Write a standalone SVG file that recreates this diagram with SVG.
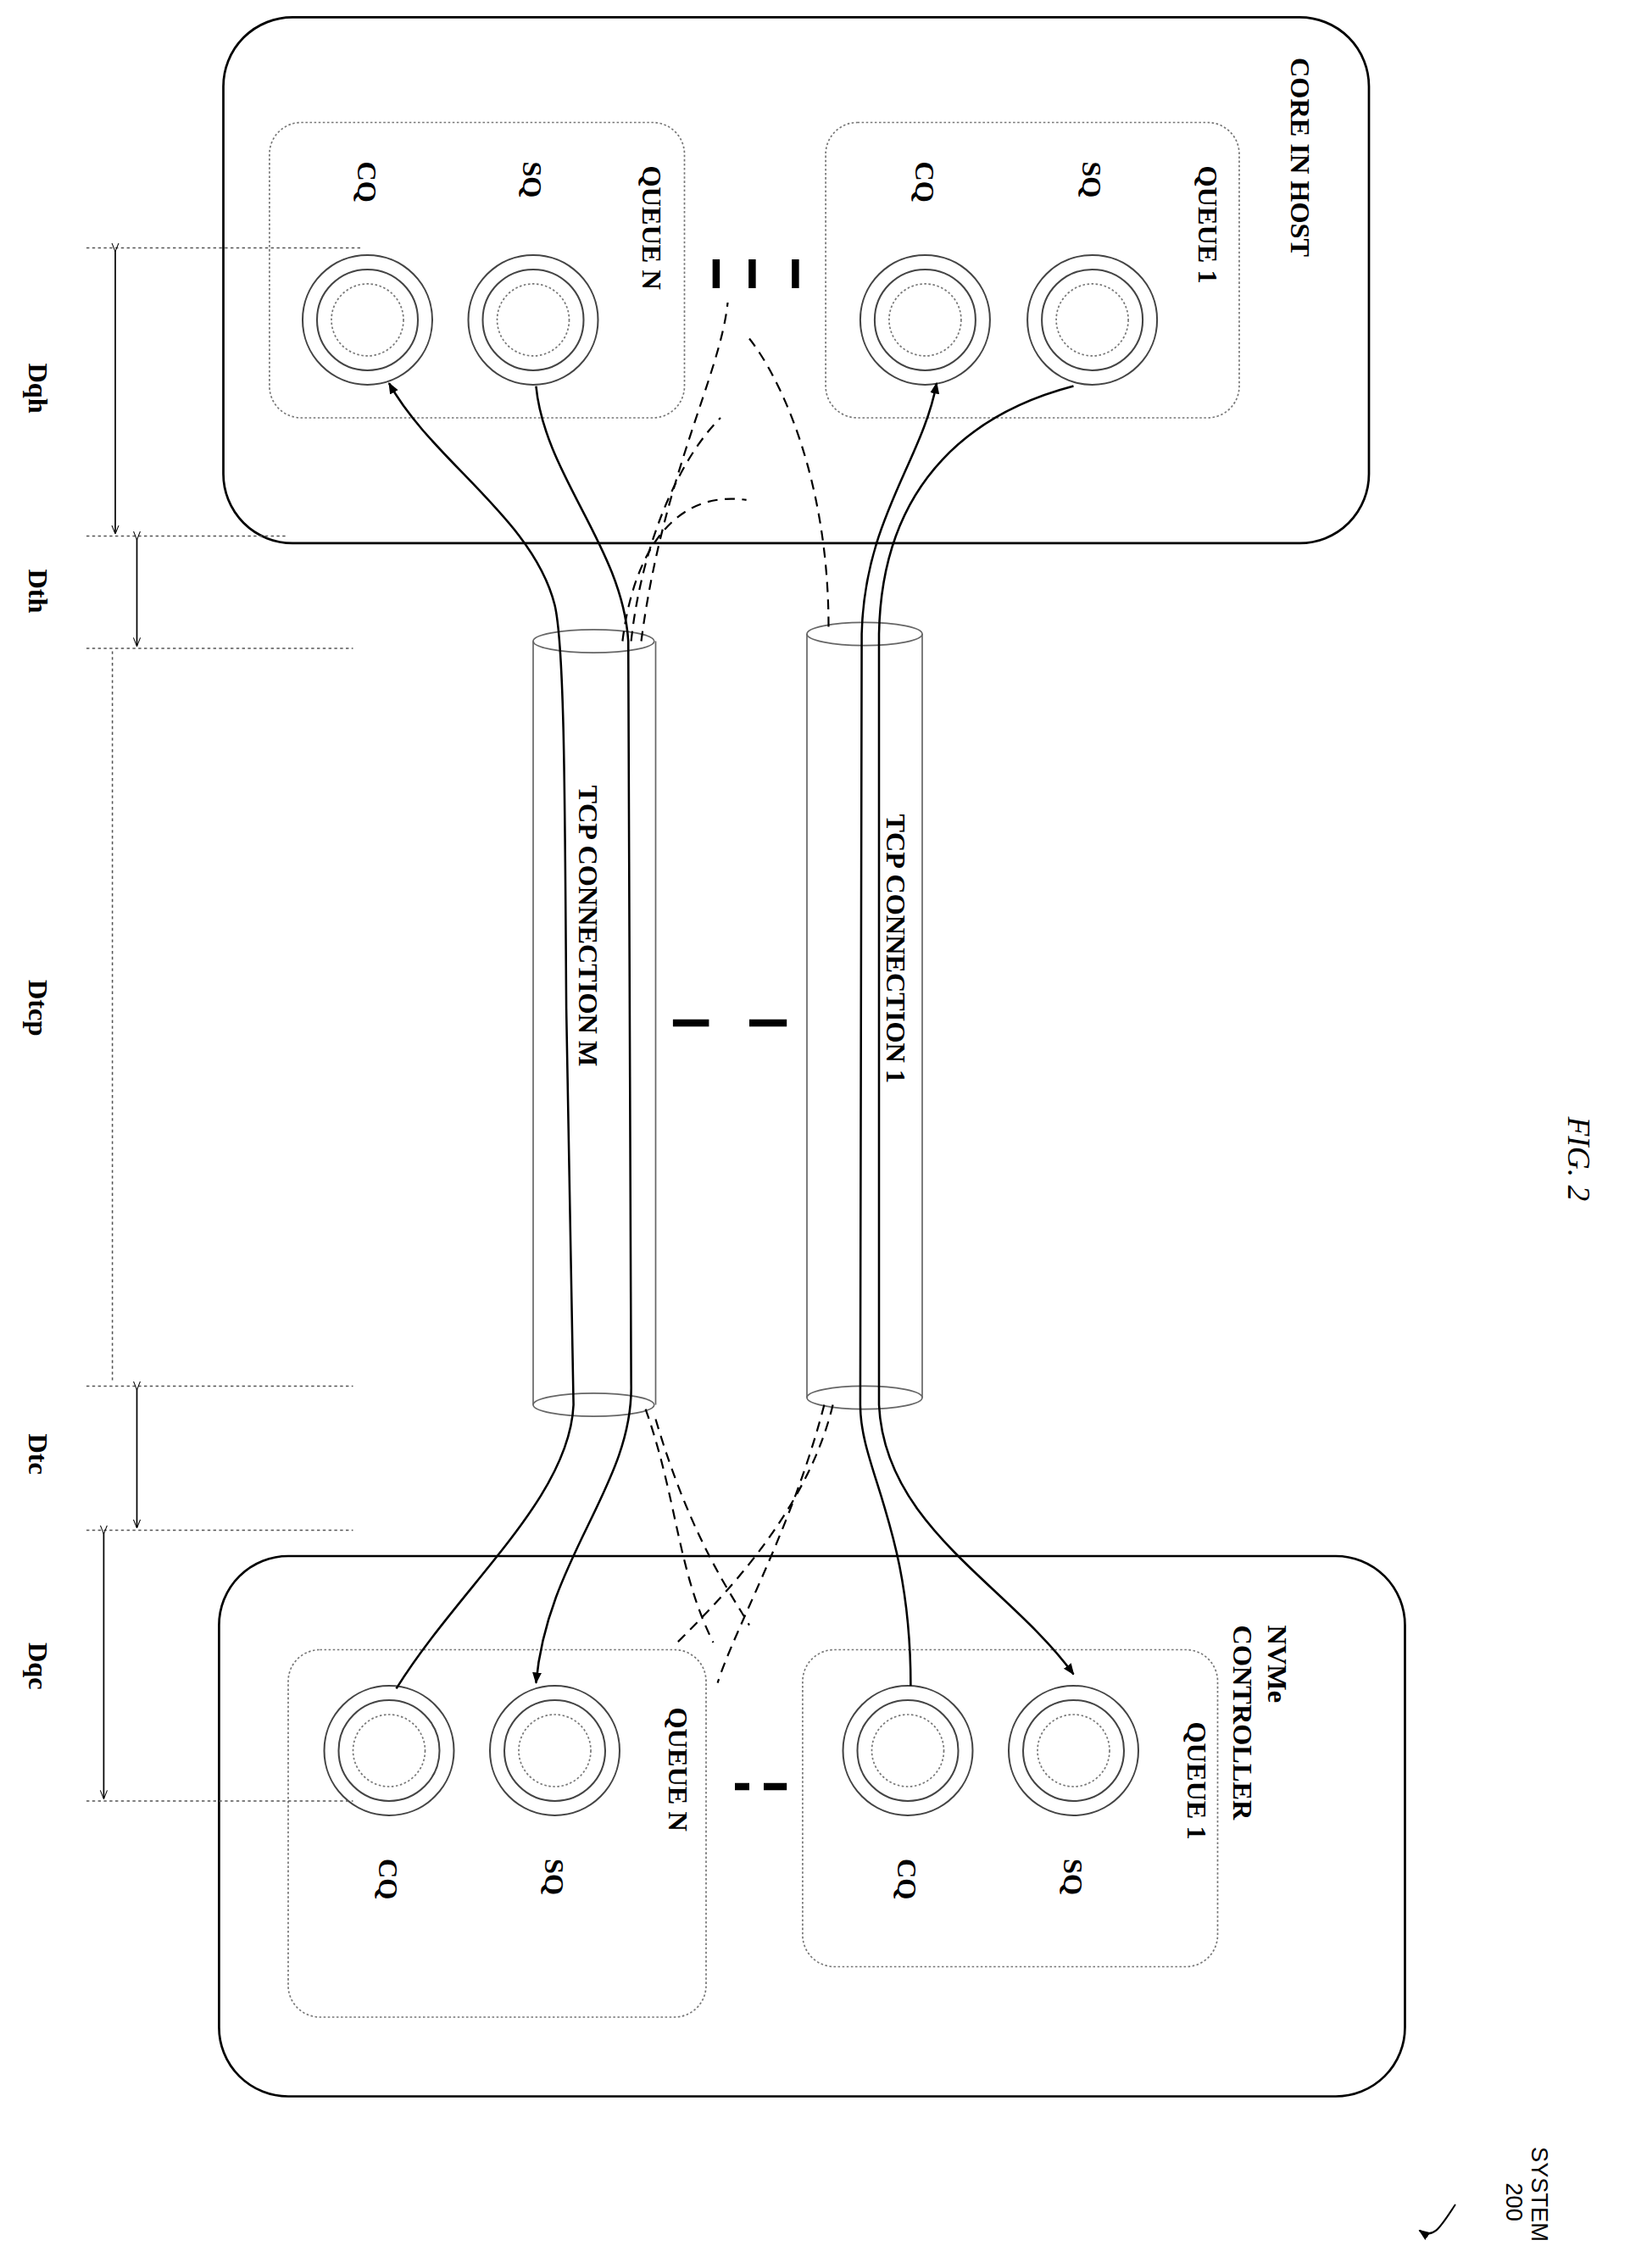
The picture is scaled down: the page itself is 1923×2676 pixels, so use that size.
<svg xmlns="http://www.w3.org/2000/svg" width="1923" height="2676" viewBox="0 0 1923 2676">
<defs>
<style>
.box{fill:none;stroke:#000;stroke-width:1.6}
.inner{fill:none;stroke:#777;stroke-width:1;stroke-dasharray:1.5 1.5}
.c1{fill:none;stroke:#444;stroke-width:1.2}
.c2{fill:none;stroke:#777;stroke-width:1;stroke-dasharray:1.5 1.5}
.t{font-family:"Liberation Serif",serif;font-size:19px;fill:#000}
.b{font-weight:bold}
.halo{paint-order:stroke;stroke:#fff;stroke-width:4px}
.ln{fill:none;stroke:#000;stroke-width:1.5}
.dl{fill:none;stroke:#000;stroke-width:1.3;stroke-dasharray:7 5}
.dim{fill:none;stroke:#555;stroke-width:0.9;stroke-dasharray:2 2}
.bold{stroke:#000;stroke-width:5}
.cyl{fill:none;stroke:#666;stroke-width:1}
</style>
<marker id="ah" viewBox="0 0 10 10" refX="9" refY="5" markerWidth="8" markerHeight="8" orient="auto" markerUnits="userSpaceOnUse"><path d="M0,1 L10,5 L0,9 z" fill="#000"/></marker>
<marker id="dh" viewBox="0 0 10 10" refX="9" refY="5" markerWidth="6" markerHeight="6" orient="auto" markerUnits="userSpaceOnUse"><path d="M0,1 L10,5 L0,9" fill="none" stroke="#000"/></marker>
</defs>
<g transform="scale(1.7)">
<g id="host">
<rect class="box" x="155" y="12" width="795" height="365" rx="48"/>
<text class="t b" transform="translate(896,40) rotate(90)">CORE IN HOST</text>
</g>
<g id="host-queue-n">
<rect class="inner" x="187" y="85" width="288" height="205" rx="22"/>
<text class="t b" transform="translate(446,115) rotate(90)">QUEUE N</text>
<circle class="c1" cx="255" cy="222" r="45"/><circle class="c1" cx="255" cy="222" r="35"/><circle class="c2" cx="255" cy="222" r="25"/>
<text class="t b" transform="translate(248,112) rotate(90)">CQ</text>
<circle class="c1" cx="370" cy="222" r="45"/><circle class="c1" cx="370" cy="222" r="35"/><circle class="c2" cx="370" cy="222" r="25"/>
<text class="t b" transform="translate(363,112) rotate(90)">SQ</text>
</g>
<g id="host-queue-1">
<rect class="inner" x="573" y="85" width="287" height="205" rx="22"/>
<text class="t b" transform="translate(832,115) rotate(90)">QUEUE 1</text>
<circle class="c1" cx="642" cy="222" r="45"/><circle class="c1" cx="642" cy="222" r="35"/><circle class="c2" cx="642" cy="222" r="25"/>
<text class="t b" transform="translate(635,112) rotate(90)">CQ</text>
<circle class="c1" cx="758" cy="222" r="45"/><circle class="c1" cx="758" cy="222" r="35"/><circle class="c2" cx="758" cy="222" r="25"/>
<text class="t b" transform="translate(751,112) rotate(90)">SQ</text>
</g>
<g id="ctrl">
<rect class="box" x="152" y="1080" width="823" height="375" rx="48"/>
<text class="t b" transform="translate(880,1128) rotate(90)">NVMe</text>
<text class="t b" transform="translate(856,1128) rotate(90)">CONTROLLER</text>
</g>
<g id="ctrl-queue-n">
<rect class="inner" x="200" y="1145" width="290" height="255" rx="22"/>
<text class="t b" transform="translate(464,1185) rotate(90)">QUEUE N</text>
<circle class="c1" cx="270" cy="1215" r="45"/><circle class="c1" cx="270" cy="1215" r="35"/><circle class="c2" cx="270" cy="1215" r="25"/>
<text class="t b" transform="translate(263,1290) rotate(90)">CQ</text>
<circle class="c1" cx="385" cy="1215" r="45"/><circle class="c1" cx="385" cy="1215" r="35"/><circle class="c2" cx="385" cy="1215" r="25"/>
<text class="t b" transform="translate(378,1290) rotate(90)">SQ</text>
</g>
<g id="ctrl-queue-1">
<rect class="inner" x="557" y="1145" width="288" height="220" rx="22"/>
<text class="t b" transform="translate(824,1195) rotate(90)">QUEUE 1</text>
<circle class="c1" cx="630" cy="1215" r="45"/><circle class="c1" cx="630" cy="1215" r="35"/><circle class="c2" cx="630" cy="1215" r="25"/>
<text class="t b" transform="translate(623,1290) rotate(90)">CQ</text>
<circle class="c1" cx="745" cy="1215" r="45"/><circle class="c1" cx="745" cy="1215" r="35"/><circle class="c2" cx="745" cy="1215" r="25"/>
<text class="t b" transform="translate(738,1290) rotate(90)">SQ</text>
</g>
<g id="tcp-m">
<line class="cyl" x1="370" y1="445" x2="370" y2="975"/><line class="cyl" x1="455" y1="445" x2="455" y2="975"/>
<ellipse class="cyl" cx="412" cy="445" rx="42" ry="8"/><ellipse class="cyl" cx="412" cy="975" rx="42" ry="8"/>
</g>
<g id="tcp-1">
<line class="cyl" x1="560" y1="440" x2="560" y2="970"/><line class="cyl" x1="640" y1="440" x2="640" y2="970"/>
<ellipse class="cyl" cx="600" cy="440" rx="40" ry="8"/><ellipse class="cyl" cx="600" cy="970" rx="40" ry="8"/>
</g>
<g id="connectors">
<path class="ln" marker-end="url(#ah)" d="M275,1172 C320,1100 395,1040 398,975 L393,700 C392,560 392,450 385,420 C370,360 300,320 270,266"/>
<path class="ln" marker-end="url(#ah)" d="M372,268 C378,330 432,380 436,445 L438,960 C440,1030 380,1080 372,1168"/>
<path class="ln" marker-end="url(#ah)" d="M632,1170 C632,1060 597,1020 597,975 L598,440 C600,360 640,320 650,266"/>
<path class="ln" marker-end="url(#ah)" d="M745,268 C680,285 612,330 610,440 L610,975 C614,1060 700,1100 745,1162"/>
<path class="dl" d="M432,445 C440,380 470,340 518,347"/>
<path class="dl" d="M438,445 C445,380 470,320 500,290"/>
<path class="dl" d="M445,445 C460,330 500,260 505,210"/>
<path class="dl" d="M575,435 C575,330 540,260 520,235"/>
<path class="dl" d="M448,978 C470,1040 470,1090 495,1140"/>
<path class="dl" d="M455,985 C480,1070 510,1110 520,1128"/>
<path class="dl" d="M578,975 C560,1050 500,1110 470,1140"/>
<path class="dl" d="M572,975 C550,1060 510,1130 498,1168"/>
<line class="bold" x1="497" y1="180" x2="497" y2="200"/><line class="bold" x1="522" y1="180" x2="522" y2="200"/><line class="bold" x1="552" y1="180" x2="552" y2="200"/>
<line class="bold" x1="467" y1="710" x2="492" y2="710"/><line class="bold" x1="520" y1="710" x2="546" y2="710"/>
<line class="bold" x1="510" y1="1240" x2="520" y2="1240"/><line class="bold" x1="530" y1="1240" x2="546" y2="1240"/>
</g>
<g id="tcp-labels">
<text class="t b halo" transform="translate(402,545) rotate(90)">TCP CONNECTION M</text>
<text class="t b halo" transform="translate(615,565) rotate(90)">TCP CONNECTION 1</text>
</g>
<g id="dims">
<line class="dim" x1="60" y1="172" x2="250" y2="172"/>
<line class="dim" x1="60" y1="372" x2="200" y2="372"/>
<line class="dim" x1="60" y1="450" x2="245" y2="450"/>
<line class="dim" x1="60" y1="962" x2="245" y2="962"/>
<line class="dim" x1="60" y1="1062" x2="245" y2="1062"/>
<line class="dim" x1="60" y1="1250" x2="245" y2="1250"/>
<line class="ln" style="stroke-width:1" marker-start="url(#dh)" marker-end="url(#dh)" x1="80" y1="174" x2="80" y2="370"/>
<line class="ln" style="stroke-width:1" marker-start="url(#dh)" marker-end="url(#dh)" x1="95" y1="374" x2="95" y2="448"/>
<line class="dim" x1="78" y1="452" x2="78" y2="960"/>
<line class="ln" style="stroke-width:1" marker-start="url(#dh)" marker-end="url(#dh)" x1="95" y1="964" x2="95" y2="1060"/>
<line class="ln" style="stroke-width:1" marker-start="url(#dh)" marker-end="url(#dh)" x1="72" y1="1064" x2="72" y2="1248"/>
<text class="t b" transform="translate(20,252) rotate(90)">Dqh</text>
<text class="t b" transform="translate(20,395) rotate(90)">Dth</text>
<text class="t b" transform="translate(20,680) rotate(90)">Dtcp</text>
<text class="t b" transform="translate(20,995) rotate(90)">Dtc</text>
<text class="t b" transform="translate(20,1140) rotate(90)">Dqc</text>
</g>
<g id="labels">
<text class="t" style="font-style:italic;font-size:22px" transform="translate(1088,775) rotate(90)">FIG. 2</text>
<text style="font-family:'Liberation Sans',sans-serif;font-size:16px" transform="translate(1063,1490) rotate(90)">SYSTEM</text>
<text style="font-family:'Liberation Sans',sans-serif;font-size:16px" transform="translate(1045,1515) rotate(90)">200</text>
<path class="ln" style="stroke-width:1.2" marker-end="url(#ah)" d="M1010,1530 C1000,1545 995,1555 985,1548"/>
</g>
</g>
</svg>
